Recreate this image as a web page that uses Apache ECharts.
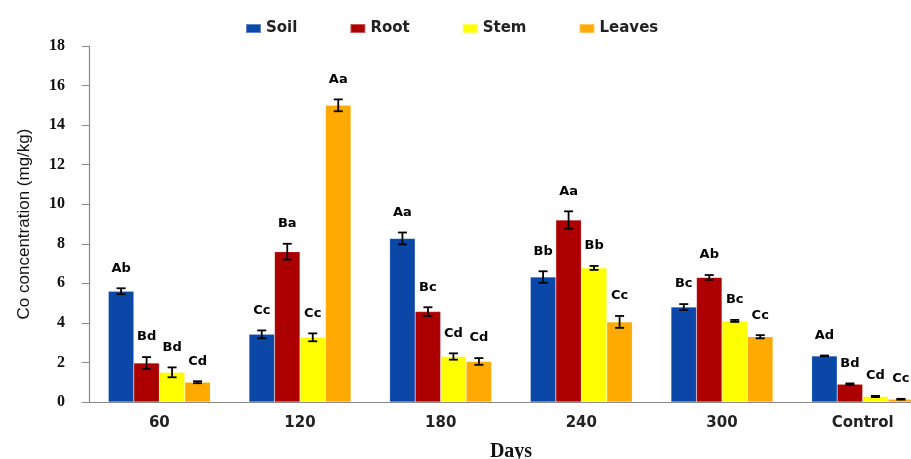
<!DOCTYPE html>
<html><head><meta charset="utf-8">
<script src="https://cdn.jsdelivr.net/npm/echarts@6/dist/echarts.min.js"></script>
<style>html,body{margin:0;padding:0;background:#fff}#c{width:911px;height:459px}</style>
</head><body><div id="c"></div>
<script>
const categories = ['60', '120', '180', '240', '300', 'Control'];
const yTicks = [0, 2, 4, 6, 8, 10, 12, 14, 16, 18];
const seriesNames = ['Soil', 'Root', 'Stem', 'Leaves'];
const soil = [5.6, 3.42, 8.27, 6.32, 4.8, 2.33];
const root = [1.97, 7.6, 4.57, 9.2, 6.3, 0.9];
const stem = [1.5, 3.27, 2.3, 6.78, 4.1, 0.28];
const leaves = [1.0, 15.0, 2.05, 4.05, 3.3, 0.14];
const soilErr = [0.15, 0.2, 0.3, 0.29, 0.15, 0.02];
const rootErr = [0.3, 0.4, 0.22, 0.44, 0.12, 0.04];
const stemErr = [0.25, 0.2, 0.16, 0.1, 0.05, 0.03];
const leavesErr = [0.05, 0.3, 0.17, 0.3, 0.08, 0.02];
const soilSig = ['Ab', 'Cc', 'Aa', 'Bb', 'Bc', 'Ad'];
const rootSig = ['Bd', 'Ba', 'Bc', 'Aa', 'Ab', 'Bd'];
const stemSig = ['Bd', 'Cc', 'Cd', 'Bb', 'Bc', 'Cd'];
const leavesSig = ['Cd', 'Aa', 'Cd', 'Cc', 'Cc', 'Cc'];

const colors = ['#0a47a6', '#ac0000', '#ffff00', '#ffaa00'];
const values = [soil, root, stem, leaves];
const errs = [soilErr, rootErr, stemErr, leavesErr];
const sigs = [soilSig, rootSig, stemSig, leavesSig];
const catGap = 0.275;

const chart = echarts.init(document.getElementById('c'));
const series = [];
values.forEach((v, i) => {
  series.push({
    name: seriesNames[i], type: 'bar', data: v, barGap: '0%', barCategoryGap: (catGap * 100) + '%',
    itemStyle: { color: colors[i], borderColor: 'rgba(255,255,255,0.35)', borderWidth: 0.5 }
  });
});
values.forEach((v, i) => {
  series.push({
    type: 'custom', z: 10, silent: true,
    data: v.map((val, j) => [j, val, errs[i][j]]),
    renderItem: function (params, api) {
      const j = api.value(0), val = api.value(1), e = api.value(2);
      const bandW = api.size([1, 0])[0];
      const bw = bandW * (1 - catGap) / 4;
      const center = api.coord([j, 0])[0];
      const x = center - 2 * bw + bw * (i + 0.5);
      const yTop = api.coord([j, val + e])[1];
      const yBot = api.coord([j, val - e])[1];
      const cap = 4.5;
      return {
        type: 'group', children: [
          { type: 'line', shape: { x1: x, y1: yTop, x2: x, y2: yBot }, style: { stroke: '#000', lineWidth: 1.8 } },
          { type: 'line', shape: { x1: x - cap, y1: yTop, x2: x + cap, y2: yTop }, style: { stroke: '#000', lineWidth: 1.8 } },
          { type: 'line', shape: { x1: x - cap, y1: yBot, x2: x + cap, y2: yBot }, style: { stroke: '#000', lineWidth: 1.8 } },
          { type: 'text', x: x, y: yTop - 20, style: { text: sigs[i][j], font: 'bold 13px "DejaVu Sans"', fill: '#000', align: 'center', verticalAlign: 'middle' } }
        ]
      };
    }
  });
});

chart.setOption({
  animation: false,
  color: colors,
  legend: {
    data: seriesNames, top: 16, left: 240, itemWidth: 15, itemHeight: 9, itemGap: 52,
    icon: 'rect',
    textStyle: { fontFamily: 'DejaVu Sans', fontWeight: 'bold', fontSize: 15, color: '#222', padding: [0, 0, 0, 0] }
  },
  grid: { left: 89, top: 46, bottom: 57, right: -22, outerBoundsMode: 'none', containLabel: false },
  xAxis: {
    type: 'category', data: categories,
    name: 'Days', nameLocation: 'middle', nameGap: 40,
    nameTextStyle: { fontFamily: 'Liberation Serif', fontWeight: 'bold', fontSize: 20, color: '#111' },
    axisLine: { lineStyle: { color: '#888', width: 1.2 } },
    axisTick: { length: 5, lineStyle: { color: '#888' } },
    axisLabel: { margin: 14, fontFamily: 'DejaVu Sans', fontWeight: 'bold', fontSize: 15, color: '#222' }
  },
  yAxis: {
    type: 'value', min: 0, max: 18, interval: 2,
    name: 'Co concentration (mg/kg)', nameLocation: 'middle', nameGap: 56,
    nameTextStyle: { fontFamily: 'Liberation Sans', fontSize: 17, color: '#111' },
    axisLine: { show: true, lineStyle: { color: '#888', width: 1.2 } },
    axisTick: { show: true, length: 7, lineStyle: { color: '#888' } },
    splitLine: { show: false },
    axisLabel: { margin: 24, fontFamily: 'Liberation Serif', fontWeight: 'bold', fontSize: 16, color: '#111',
      formatter: v => yTicks.includes(v) ? String(v) : '' }
  },
  series: series
});
</script></body></html>
